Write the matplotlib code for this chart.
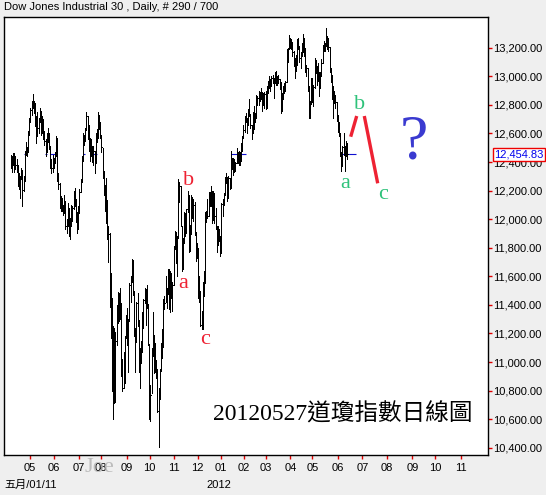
import matplotlib
matplotlib.use("Agg")
import matplotlib.pyplot as plt  # noqa: E402
import matplotlib.transforms as mtransforms  # noqa: E402
from matplotlib.ticker import FuncFormatter  # noqa: E402
import numpy as np  # noqa: E402

W, H = 546, 495                                # output size in pixels (dpi 100)

# ------------------------------------------------------------------ data ----
# Dow Jones Industrial 30, daily bars 2011-04-04 .. 2012-05-25 (290 bars).
close_2011 = [
    12400, 12393, 12426, 12409, 12380, 12381, 12263, 12270, 12285, 12342, 12202, 12266, 12453, 12506,
    12480, 12595, 12690, 12763, 12811,
    12808, 12807, 12724, 12584, 12638, 12684, 12760, 12630, 12696, 12596, 12548, 12479, 12560, 12605,
    12512, 12381, 12356, 12394, 12402, 12441, 12570,
    12290, 12248, 12151, 12089, 12070, 12049, 12124, 11952, 11953, 12076, 11898, 11962, 12004, 12081,
    12191, 12109, 12050, 11934, 12043, 12188, 12262, 12414,
    12582, 12570, 12626, 12719, 12657, 12506, 12447, 12492, 12437, 12480, 12386, 12588, 12572, 12724,
    12681, 12592, 12502, 12302, 12240, 12143,
    12132, 11867, 11897, 11384, 11445, 10810, 11240, 10720, 11144, 11270, 11483, 11406, 11411, 10991,
    10818, 10855, 11177, 11321, 11150, 11285, 11540, 11560, 11614,
    11494, 11240, 11140, 11415, 11296, 10993, 11062, 11106, 11247, 11434, 11510, 11402, 11408, 11125,
    10734, 10771, 11044, 11191, 10939, 11011, 10913,
    10655, 10809, 10940, 11124, 11103, 11433, 11416, 11519, 11478, 11644, 11397, 11577, 11505, 11541,
    11809, 11913, 11707, 11870, 12209, 12231, 11955,
    11658, 11836, 12044, 11983, 12069, 12170, 11781, 11894, 12153, 12079, 12096, 11906, 11771, 11796,
    11548, 11494, 11258, 11231, 11523, 11556, 12046,
    12020, 12019, 12098, 12151, 12196, 11997, 12184, 12021, 11955, 11824, 11869, 11866, 11766, 12103,
    12108, 12169, 12295, 12292, 12151, 12288, 12218,
]
high_2011 = [
    12450, 12440, 12460, 12460, 12440, 12420, 12381, 12320, 12300, 12360, 12342, 12300, 12480, 12540,
    12506, 12620, 12710, 12780, 12830,
    12876, 12830, 12810, 12724, 12750, 12710, 12780, 12760, 12720, 12700, 12620, 12560, 12600, 12640,
    12605, 12510, 12420, 12450, 12430, 12470, 12580,
    12570, 12320, 12250, 12160, 12150, 12100, 12170, 12124, 12000, 12110, 12076, 12010, 12100, 12090,
    12200, 12220, 12140, 12050, 12090, 12210, 12280, 12440,
    12600, 12590, 12640, 12753, 12719, 12657, 12570, 12560, 12510, 12510, 12480, 12600, 12630, 12750,
    12730, 12681, 12592, 12500, 12340, 12240,
    12290, 12130, 11950, 11900, 11620, 11440, 11250, 11240, 11210, 11400, 11490, 11480, 11520, 11410,
    11020, 11070, 11180, 11330, 11380, 11300, 11550, 11600, 11720,
    11716, 11494, 11240, 11420, 11480, 11296, 11100, 11150, 11350, 11440, 11520, 11510, 11540, 11408,
    11125, 10840, 11100, 11350, 11190, 11130, 11010,
    10950, 10820, 10950, 11130, 11230, 11440, 11460, 11600, 11520, 11650, 11650, 11640, 11620, 11560,
    11810, 11920, 11913, 11880, 12284, 12260, 12231,
    11950, 11870, 12050, 12040, 12070, 12200, 12170, 11960, 12170, 12150, 12140, 12120, 11910, 11830,
    11800, 11600, 11494, 11360, 11560, 11640, 12050,
    12060, 12140, 12190, 12190, 12230, 12196, 12200, 12184, 12080, 11955, 11950, 11930, 11880, 12110,
    12140, 12180, 12295, 12320, 12290, 12300, 12290,
]
low_2011 = [
    12360, 12330, 12380, 12330, 12350, 12330, 12230, 12210, 12150, 12280, 12090, 12200, 12270, 12450,
    12440, 12470, 12590, 12680, 12730,
    12780, 12740, 12650, 12530, 12584, 12600, 12680, 12590, 12600, 12560, 12520, 12440, 12470, 12540,
    12490, 12360, 12320, 12330, 12360, 12390, 12440,
    12270, 12210, 12080, 12060, 12060, 12030, 12040, 11930, 11900, 11950, 11880, 11862, 11950, 11990,
    12070, 12090, 11980, 11900, 11940, 12040, 12190, 12260,
    12410, 12520, 12550, 12630, 12560, 12480, 12410, 12440, 12400, 12380, 12320, 12390, 12540, 12570,
    12630, 12570, 12470, 12290, 12170, 12060,
    11970, 11860, 11700, 11383, 11170, 10800, 10604, 10710, 10720, 11120, 11270, 11290, 11300, 10900,
    10800, 10820, 10850, 11170, 11120, 10930, 11290, 11420, 11560,
    11470, 11180, 10930, 11140, 11250, 10930, 10820, 10990, 11070, 11240, 11410, 11260, 11380, 11120,
    10600, 10590, 10780, 11040, 10920, 10930, 10890,
    10650, 10404, 10740, 10940, 11030, 11110, 11370, 11420, 11380, 11480, 11370, 11350, 11450, 11360,
    11540, 11790, 11690, 11600, 11870, 12120, 11950,
    11640, 11650, 11840, 11880, 11900, 12050, 11770, 11780, 11900, 12010, 11990, 11890, 11710, 11730,
    11450, 11420, 11250, 11230, 11240, 11460, 11560,
    11980, 12010, 12019, 12090, 12090, 11970, 11997, 11970, 11930, 11770, 11820, 11850, 11740, 11770,
    12020, 12100, 12170, 12250, 12130, 12150, 12210,
]
close_2012 = [
    12398, 12418, 12416, 12360, 12393, 12463, 12450, 12472, 12422, 12482, 12579, 12624, 12720, 12709,
    12675, 12758, 12735, 12660, 12654, 12633,
    12716, 12706, 12862, 12846, 12879, 12884, 12891, 12801, 12874, 12878, 12781, 12904, 12950, 12966,
    12938, 12985, 12983, 12982, 13005, 12952,
    12980, 12978, 12963, 12759, 12838, 12908, 12923, 12960, 13178, 13194, 13253, 13233, 13240, 13171,
    13125, 13047, 13081, 13241, 13198, 13127, 13146, 13212,
    13264, 13200, 13075, 13061, 12930, 12716, 12806, 12987, 12850, 12922, 13116, 13033, 12965, 13029,
    12928, 13002, 13091, 13205, 13229, 13214,
    13280, 13269, 13207, 13039, 13009, 12933, 12836, 12855, 12821, 12695, 12632, 12599, 12443, 12370,
    12504, 12503, 12497, 12530, 12455,
]
high_2012 = [
    12480, 12430, 12430, 12420, 12400, 12500, 12470, 12480, 12470, 12530, 12580, 12660, 12720, 12740,
    12710, 12770, 12840, 12730, 12660, 12750,
    12790, 12740, 12870, 12862, 12900, 12890, 12920, 12891, 12880, 12890, 12900, 12930, 12970, 13000,
    12980, 13000, 13010, 12990, 13030, 13040,
    13000, 13010, 12980, 12963, 12880, 12930, 12950, 12970, 13190, 13200, 13290, 13270, 13260, 13240,
    13180, 13125, 13150, 13260, 13270, 13210, 13170, 13230,
    13297, 13270, 13200, 13080, 13060, 12930, 12830, 12990, 12987, 12940, 13130, 13116, 13070, 13090,
    13029, 13030, 13120, 13220, 13250, 13230,
    13338, 13280, 13269, 13207, 13060, 13010, 12930, 12900, 12870, 12820, 12730, 12680, 12600, 12470,
    12510, 12600, 12510, 12550, 12530,
]
low_2012 = [
    12220, 12350, 12310, 12330, 12340, 12390, 12390, 12380, 12380, 12410, 12480, 12570, 12610, 12680,
    12600, 12660, 12720, 12640, 12560, 12600,
    12633, 12680, 12710, 12800, 12800, 12830, 12840, 12760, 12800, 12780, 12770, 12780, 12880, 12920,
    12900, 12930, 12950, 12850, 12950, 12940,
    12940, 12950, 12910, 12740, 12759, 12840, 12880, 12900, 12960, 13100, 13190, 13200, 13190, 13140,
    13070, 12990, 13040, 13080, 13190, 13100, 13060, 13140,
    13170, 13140, 13030, 13000, 12900, 12710, 12710, 12806, 12820, 12790, 12920, 13020, 12940, 12970,
    12860, 12920, 13002, 13090, 13180, 13180,
    13210, 13190, 13180, 13030, 12960, 12840, 12710, 12810, 12780, 12690, 12610, 12580, 12440, 12340,
    12370, 12450, 12340, 12440, 12420,
]
last_price = 12454.83

month_labels = ["05", "06", "07", "08", "09", "10", "11", "12", "01", "02", "03", "04",
                "05", "06", "07", "08", "09", "10", "11"]

# ---------------------------------------------------------------- layout ----
BAR0_PX, BAR_PX = 10.7, 1.164                  # pixel x of bar 0, pixel step per bar
TICK_PX = [30, 54, 78.7, 101, 126.7, 149.7, 173.7, 197.7, 220.7, 243.7, 265.7, 290.3, 312.3,
           338.3, 362.3, 387, 412.3, 435, 461]
BLUE_PX = [(24, 27), (45, 47), (50, 56), (83, 85), (90, 97), (231, 246), (340, 356)]
AX_L, AX_T, AX_R, AX_B = 4, 17, 488, 455       # plot box in pixels


def bar_of(px):
    return (px - BAR0_PX) / BAR_PX


def price_of(py):
    return 13200 - (py - 47.7) / 0.14286


def fig_xy(px, py):
    return px / W, 1 - py / H


SANS = ["Liberation Sans", "Noto Sans CJK TC"]
SERIF = ["Liberation Serif", "Noto Sans CJK TC"]
plt.rcParams["font.family"] = SANS

closes = np.array(close_2011 + close_2012)
highs = np.array(high_2011 + high_2012)
lows = np.array(low_2011 + low_2012)
assert len(closes) == len(highs) == len(lows), (len(closes), len(highs), len(lows))
x = np.arange(len(closes))

fig = plt.figure(figsize=(W / 100, H / 100), dpi=100, facecolor="#efefef")
ax = fig.add_axes([AX_L / W, 1 - AX_B / H, (AX_R - AX_L) / W, (AX_B - AX_T) / H])
ax.set_facecolor("white")

# current-price guide (blue pieces) behind the bars
for a, b in BLUE_PX:
    ax.plot([bar_of(a), bar_of(b)], [last_price, last_price], color="#1010d0", lw=0.8,
            solid_capstyle="butt", zorder=1)

ax.vlines(x, lows, highs, color="black", lw=0.72, antialiased=False, zorder=2)
ax.hlines(closes, x, x + 0.8, color="black", lw=0.72, antialiased=False, zorder=2)

ax.set_xlim(bar_of(AX_L), bar_of(AX_R))
ax.set_ylim(10349, 13415)

ax.yaxis.tick_right()
ax.set_yticks(np.arange(10400, 13201, 200))
ax.yaxis.set_major_formatter(FuncFormatter(lambda v, p: f"{v:,.2f}"))
ax.tick_params(axis="y", color="#e00000", labelcolor="black", length=3, width=1,
               labelsize=8, pad=1)
ax.set_xticks([bar_of(p) for p in TICK_PX], month_labels)
ax.tick_params(axis="x", color="#e00000", labelcolor="black", length=3, width=1,
               labelsize=8, pad=3)
for s in ax.spines.values():
    s.set_color("black")
    s.set_linewidth(1)

# last price box on the right axis
trans = mtransforms.blended_transform_factory(ax.transAxes, ax.transData)
ax.text(1 + 6 / (AX_R - AX_L), last_price, f"{last_price:,.2f}", transform=trans, ha="left",
        va="center", fontsize=8, color="#0000ee", clip_on=False, zorder=5,
        bbox=dict(boxstyle="square,pad=0.12", fc="white", ec="#ee0000", lw=1))

# wave labels (red: earlier a-b-c, green: projected a-b-c)
RED = "#ee2233"
GREEN = "#2ec27a"
for lab, px, py in [("a", 183, 283), ("b", 189, 180), ("c", 205, 339)]:
    ax.text(bar_of(px), price_of(py), lab, color=RED, fontsize=16,
            family=SERIF, ha="center", va="center", zorder=6)
for lab, px, py in [("a", 345.5, 183), ("b", 359.5, 104), ("c", 383.5, 194)]:
    ax.text(bar_of(px), price_of(py), lab, color=GREEN, fontsize=16,
            family=SERIF, ha="center", va="center", zorder=6)

for (x0, y0), (x1, y1) in [((350.7, 136.7), (356.7, 116)), ((364.3, 116), (377.7, 183.3))]:
    ax.plot([bar_of(x0), bar_of(x1)], [price_of(y0), price_of(y1)],
            color=RED, lw=2.4, solid_capstyle="butt", zorder=6)

ax.text(bar_of(414), price_of(143), "?", color="#3a3ad0", fontsize=46,
        family=SERIF, ha="center", va="center", zorder=6)

# caption + chrome text
fig.text(*fig_xy(343, 414), "20120527道瓊指數日線圖", fontsize=17, family=SERIF,
         ha="center", va="center", color="black")
fig.text(*fig_xy(4, 7), "Dow Jones Industrial 30 , Daily, # 290 / 700", fontsize=8,
         ha="left", va="center")
fig.text(*fig_xy(4, 485), "五月/01/11", fontsize=8, ha="left", va="center")
fig.text(*fig_xy(219, 485), "2012", fontsize=8, ha="center", va="center")
fig.text(*fig_xy(99, 468), "Joe", fontsize=16, family=SERIF, ha="center", va="center",
         color="#b0b0b0", alpha=0.8)

fig.savefig("out.png", dpi=100, facecolor=fig.get_facecolor())
